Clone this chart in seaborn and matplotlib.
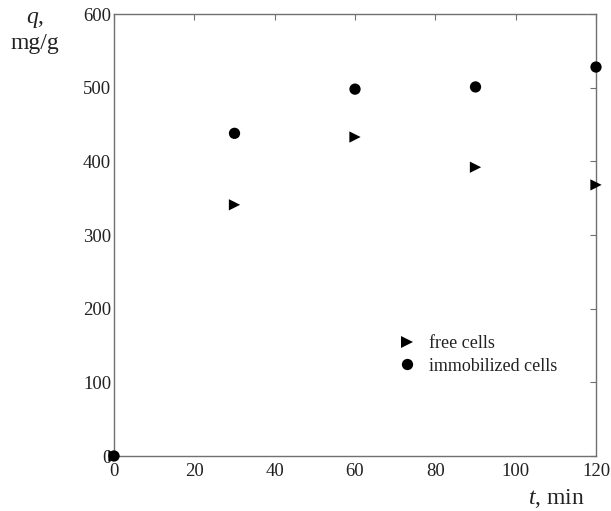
import matplotlib
matplotlib.use("Agg")
import matplotlib.pyplot as plt
import seaborn as sns
import pandas as pd

t_min = [0, 30, 60, 90, 120]
free_cells = [0, 341, 433, 392, 368]
immobilized_cells = [0, 438, 498, 501, 528]
series_names = ["free cells", "immobilized cells"]
x_ticks = [0, 20, 40, 60, 80, 100, 120]
y_ticks = [0, 100, 200, 300, 400, 500, 600]

sns.set_style("white")
plt.rcParams["font.family"] = ["Liberation Serif", "DejaVu Serif"]
plt.rcParams["mathtext.fontset"] = "custom"
plt.rcParams["mathtext.it"] = "Liberation Serif:italic"
plt.rcParams["mathtext.rm"] = "Liberation Serif"

df = pd.DataFrame({
    "t": t_min * 2,
    "q": free_cells + immobilized_cells,
    "series": [series_names[0]] * len(t_min) + [series_names[1]] * len(t_min),
})

fig = plt.figure(figsize=(6.11, 5.11), dpi=100)
ax = fig.add_axes([114 / 611, 55 / 511, (596 - 114) / 611, (456 - 14) / 511])

sns.scatterplot(data=df, x="t", y="q", hue="series", style="series",
                markers={series_names[0]: ">", series_names[1]: "o"},
                palette={series_names[0]: "black", series_names[1]: "black"},
                s=66, edgecolor="black", linewidth=0, ax=ax, clip_on=False,
                legend=True, zorder=3)

ax.set_xlim(0, 120)
ax.set_ylim(0, 600)
ax.set_xticks(x_ticks)
ax.set_yticks(y_ticks)
ax.set_xlabel("")
ax.set_ylabel("")
for s in ax.spines.values():
    s.set_color("#707070")
    s.set_linewidth(1.0)
ax.tick_params(direction="in", length=4, width=0.8, color="#707070",
               labelsize=13.5, top=True, right=True, labelcolor="#222222")
ax.tick_params(axis="x", pad=5)
ax.tick_params(axis="y", pad=2)

leg = ax.legend(loc="upper left", bbox_to_anchor=(0.589, 0.273), frameon=False,
                fontsize=13, handlelength=1.0, handletextpad=0.75,
                labelspacing=0.3, borderpad=0, borderaxespad=0)
for txt in leg.get_texts():
    txt.set_color("#222222")

fig.text(556 / 611, 1 - 498 / 511, r"$t$, min", fontsize=17, ha="center", va="center",
         color="#222222")
fig.text(35 / 611, 1 - 20 / 511, r"$q$,", fontsize=17, ha="center", va="center",
         color="#222222")
fig.text(35 / 611, 1 - 43 / 511, "mg/g", fontsize=17, ha="center", va="center",
         color="#222222")

fig.savefig("out.png", dpi=100)
